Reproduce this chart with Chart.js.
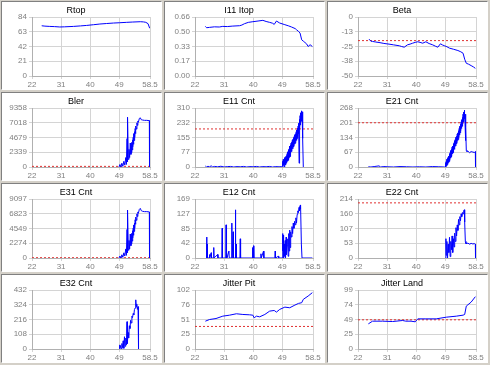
<!DOCTYPE html>
<html>
<head>
<meta charset="utf-8">
<script src="https://cdn.jsdelivr.net/npm/chart.js@4.4.1/dist/chart.umd.min.js"></script>
<style>
  html, body { margin: 0; padding: 0; }
  body { width: 490px; height: 365px; background: #d4d0c8; position: relative; overflow: hidden; }
  .panel { position: absolute; width: 159px; height: 87px; background: #fff;
           border: 1px solid; border-color: #808080 #ffffff #ffffff #808080; }
  .panel canvas { display: block; }
</style>
</head>
<body>
<script>
// x axis (shared)
const xTickVals = [22, 31, 40, 49, 58.5];
const xTickLabels = ['22', '31', '40', '49', '58.5'];

const panelTitles = ['Rtop', 'I11 Itop', 'Beta', 'Bler', 'E11 Cnt', 'E21 Cnt',
                     'E31 Cnt', 'E12 Cnt', 'E22 Cnt', 'E32 Cnt', 'Jitter Pit', 'Jitter Land'];
const thresholds = [null, null, -20, 100, 200, 201, 50, null, 200, null, 39, 49];

// y tick labels per panel
const rtopTicks = ['0', '21', '42', '63', '84'];
const itopTicks = ['0.00', '0.17', '0.33', '0.50', '0.66'];
const betaTicks = ['-50', '-38', '-25', '-13', '0'];
const blerTicks = ['0', '2339', '4679', '7018', '9358'];
const e11Ticks = ['0', '77', '155', '232', '310'];
const e21Ticks = ['0', '67', '134', '201', '268'];
const e31Ticks = ['0', '2274', '4549', '6823', '9097'];
const e12Ticks = ['0', '42', '85', '127', '169'];
const e22Ticks = ['0', '53', '107', '160', '214'];
const e32Ticks = ['0', '108', '216', '324', '432'];
const pitTicks = ['0', '25', '51', '76', '102'];
const landTicks = ['0', '25', '49', '74', '99'];
const yRanges = [[0, 84], [0, 0.66], [-50, 0], [0, 9358], [0, 310], [0, 268],
                 [0, 9097], [0, 169], [0, 214], [0, 432], [0, 102], [0, 99]];

// series
const rtopX = [25, 26, 27.5, 29, 30.6, 32, 34.8, 37, 38.9, 41, 43, 45, 47.2, 49, 51.3, 53, 55.5, 56.5, 57.2, 57.9, 58.4];
const rtopY = [71.5, 71, 70.6, 70.3, 69.8, 70, 70.6, 71.3, 72, 73, 74, 74.7, 75.4, 75.8, 76.4, 76.8, 77.3, 77, 76.4, 74.5, 68];

const itopX = [25.2, 25.6, 26.5, 28, 29.5, 30.6, 32, 33.5, 35.8, 36.5, 37.3, 38.5, 39.9, 41.5, 43, 44, 45.1, 46, 46.5, 47.2, 48.2, 49.8, 51, 51.9, 53, 53.4, 54, 54.5, 55, 55.5, 56, 56.5, 57, 57.6, 58.3];
const itopY = [0.555, 0.54, 0.544, 0.55, 0.548, 0.555, 0.553, 0.558, 0.5625, 0.57, 0.585, 0.6, 0.6075, 0.615, 0.6225, 0.61, 0.6, 0.59, 0.577, 0.615, 0.5925, 0.574, 0.56, 0.5475, 0.53, 0.5175, 0.5, 0.48, 0.405, 0.39, 0.375, 0.36, 0.33, 0.35, 0.33];

const betaX = [25.4, 26, 26.5, 27.5, 28.5, 30, 31.6, 33, 34.8, 35.5, 36.3, 37.3, 38.1, 38.9, 39.7, 40.5, 41.2, 42, 43, 44, 45.1, 46, 46.7, 47.5, 48.2, 48.8, 49.5, 50.3, 51.5, 52.9, 53.8, 54.5, 55, 55.5, 56.2, 57, 57.7, 58.3];
const betaY = [-18.75, -20.5, -20.7, -21.2, -21.6, -22.4, -23, -23.6, -24.4, -25, -25.6, -23.6, -23, -22.2, -21.5, -21, -21.5, -22.2, -21, -22.5, -23.6, -24.8, -25.6, -22.7, -23.8, -24.4, -25.2, -26.4, -27.3, -28.4, -29.5, -30.7, -35.8, -39.2, -40, -41.2, -42.3, -43.5];

const blerX = [48.9, 49.2, 49.5, 49.8, 50.1, 50.4, 50.7, 51.0, 51.2, 51.4, 51.5, 51.6, 51.8, 52.0, 52.2, 52.4, 52.6, 52.7, 52.8, 52.9, 53.0, 53.1, 53.2, 53.3, 53.4, 53.5, 53.6, 53.7, 53.8, 53.9, 54.0, 54.15, 54.3, 54.45, 54.6, 54.75, 54.9, 55.2, 55.5, 55.8, 56.2, 56.8, 57.5, 58.3, 58.35];
const blerY = [0, 400, 0, 600, 100, 900, 300, 1500, 400, 4500, 800, 7900, 1200, 2800, 1500, 3800, 2000, 3400, 2300, 3900, 2700, 4300, 3200, 4700, 3600, 5300, 4200, 5600, 4700, 6100, 5300, 6500, 6000, 7000, 6600, 7300, 7100, 7700, 7800, 7500, 7450, 7400, 7400, 7350, 0];

const e11X = [25.2, 25.6, 26.0, 26.5, 27, 27.5, 28, 29, 30, 31, 32, 33, 34, 35, 36, 37, 38, 39, 40, 41, 42, 43, 44, 45, 46, 47, 48, 48.8,
              49.0, 49.1, 49.2, 49.3, 49.4, 49.5, 49.6, 49.7, 49.8, 49.9, 50.0, 50.1, 50.2, 50.3, 50.4, 50.5, 50.6, 50.7, 50.8, 50.9,
              51.0, 51.1, 51.2, 51.3, 51.4, 51.5, 51.6, 51.7, 51.8, 51.9, 52.0, 52.1, 52.2, 52.3, 52.4, 52.5, 52.6, 52.7, 52.8, 52.9,
              53.0, 53.1, 53.2, 53.3, 53.4, 53.5, 53.6, 53.7, 53.8, 53.9, 54.0, 54.1, 54.2, 54.3, 54.4, 54.5, 54.6, 54.7, 54.8, 54.9,
              55.0, 55.1, 55.2, 55.3, 55.4, 55.5];
const e11Y = [5, 0, 4, 1, 6, 0, 3, 1, 4, 0, 2, 3, 0, 2, 1, 3, 0, 2, 1, 3, 0, 2, 1, 3, 0, 2, 1, 2,
              0, 30, 5, 40, 10, 35, 0, 50, 15, 45, 10, 55, 20, 60, 25, 70, 30, 80, 35, 90,
              40, 95, 50, 110, 55, 115, 70, 125, 80, 130, 85, 140, 95, 145, 105, 155, 110, 160, 120, 170,
              125, 175, 135, 185, 140, 195, 150, 205, 160, 215, 175, 230, 20, 250, 200, 270, 220, 285, 240, 295,
              250, 290, 180, 240, 150, 0];

const e21X = [25.2, 26, 27, 28.5, 29, 30, 31, 33, 35, 37, 39, 41, 43, 45, 47, 48.8,
              49.0, 49.1, 49.2, 49.3, 49.4, 49.5, 49.6, 49.7, 49.8, 49.9, 50.0, 50.1, 50.2, 50.3, 50.4, 50.5, 50.6, 50.7, 50.8, 50.9,
              51.0, 51.1, 51.2, 51.3, 51.4, 51.5, 51.6, 51.7, 51.8, 51.9, 52.0, 52.1, 52.2, 52.3, 52.4, 52.5, 52.6, 52.7, 52.8, 52.9,
              53.0, 53.1, 53.2, 53.3, 53.4, 53.5, 53.6, 53.7, 53.8, 53.9, 54.0, 54.1, 54.2, 54.3, 54.4, 54.5, 54.6, 54.7, 54.8, 54.9,
              55.0, 55.1, 55.2, 55.3, 55.4, 55.5, 55.7, 56, 56.5, 57, 57.5, 58, 58.3, 58.35];
const e21Y = [1, 0, 2, 5, 0, 2, 1, 0, 2, 1, 0, 1, 0, 2, 1, 0,
              0, 20, 0, 25, 5, 35, 10, 40, 15, 45, 20, 50, 25, 60, 30, 65, 40, 75, 45, 80,
              50, 90, 60, 95, 65, 105, 75, 110, 80, 120, 90, 125, 95, 135, 105, 140, 110, 150, 120, 155,
              125, 165, 135, 175, 145, 185, 155, 195, 165, 205, 175, 215, 185, 225, 195, 240, 205, 250, 220, 258,
              230, 200, 240, 120, 180, 75, 70, 72, 65, 70, 68, 66, 70, 0];

const e31X = [48.9, 49.2, 49.5, 49.8, 50.1, 50.4, 50.7, 51.0, 51.2, 51.4, 51.5, 51.6, 51.8, 52.0, 52.2, 52.4, 52.6, 52.7, 52.8, 52.9, 53.0, 53.1, 53.2, 53.3, 53.4, 53.5, 53.6, 53.7, 53.8, 53.9, 54.0, 54.15, 54.3, 54.45, 54.6, 54.75, 54.9, 55.2, 55.5, 55.8, 56.2, 56.8, 57.5, 58.3, 58.35];
const e31Y = [0, 300, 0, 500, 100, 800, 300, 1400, 400, 4400, 800, 7400, 1200, 2700, 1400, 3700, 1900, 3300, 2200, 3800, 2600, 4200, 3100, 4600, 3500, 5100, 4100, 5400, 4600, 5900, 5200, 6300, 5800, 6800, 6400, 7100, 6900, 7500, 7650, 7300, 7200, 7150, 7150, 7100, 0];

const e12X = [25.5, 25.6, 25.7, 25.75, 25.8, 26.4, 26.5, 26.6, 27.0, 27.1, 27.7, 27.8, 27.9, 29.0, 29.1, 30.3, 30.4, 30.5, 31.5, 31.6, 31.7, 31.8, 31.9, 32.5, 32.6,
              33.3, 33.4, 33.5, 33.8, 33.9, 34.4, 34.5, 34.6, 34.7, 34.8, 35.9, 36.0, 36.1, 39.7, 39.8, 39.9, 40.1, 40.2, 42.3, 42.4, 42.5, 43.2, 43.3, 46.7, 46.8, 46.9, 47.8, 47.9,
              49.0, 49.1, 49.2, 49.3, 49.4, 49.6, 49.7, 49.9, 50.0, 50.2, 50.3, 50.5, 50.7, 50.8, 51.0, 51.1, 51.3, 51.4, 51.6, 51.8, 52.0, 52.2, 52.4, 52.6, 52.8, 53.0, 53.2, 53.4, 53.6, 53.8, 54.0, 54.2, 54.3, 54.5, 54.6, 54.7, 54.9, 55.1, 58.3];
const e12Y = [0, 60, 0, 40, 0, 0, 10, 0, 15, 0, 0, 30, 0, 10, 0, 0, 85, 0, 0, 95, 0, 20, 0, 20, 0,
              0, 100, 0, 75, 0, 0, 138, 0, 40, 0, 0, 55, 0, 0, 30, 0, 35, 0, 0, 12, 0, 20, 0, 0, 20, 0, 5, 0,
              0, 70, 20, 65, 0, 40, 5, 50, 0, 60, 10, 35, 55, 5, 70, 20, 80, 30, 75, 60, 90, 70, 100, 85, 105, 95, 115, 100, 125, 135, 130, 145, 135, 150, 140, 152, 40, 0, 0];

const e22X = [49.1, 49.2, 49.3, 49.5, 49.7, 49.9, 50.1, 50.3, 50.5, 50.7, 50.9, 51.1, 51.3, 51.5, 51.7, 51.9, 52.1, 52.3, 52.5, 52.7, 52.9, 53.1, 53.3, 53.5, 53.7, 53.9, 54.1, 54.3, 54.5, 54.7, 54.9, 55.0, 55.2, 55.4, 56, 56.5, 57, 57.5, 58, 58.3, 58.35];
const e22Y = [0, 70, 10, 60, 0, 50, 20, 75, 5, 60, 30, 80, 20, 70, 40, 90, 60, 110, 80, 120, 100, 140, 120, 150, 135, 160, 150, 165, 160, 172, 175, 130, 60, 52, 54, 50, 53, 51, 52, 50, 0];

const e32X = [49.0, 49.1, 49.2, 49.4, 49.6, 49.8, 50.0, 50.2, 50.4, 50.6, 50.8, 51.0, 51.2, 51.4, 51.5, 51.7, 51.9, 52.1, 52.3, 52.5, 52.7, 52.9, 53.1, 53.3, 53.5, 53.7, 53.9, 54.1, 54.2, 54.4, 54.6, 54.8, 54.9, 55.0];
const e32Y = [0, 30, 5, 25, 0, 40, 10, 60, 5, 90, 20, 80, 30, 200, 40, 120, 80, 170, 150, 210, 190, 240, 230, 260, 250, 290, 300, 360, 310, 330, 290, 310, 120, 0];

const pitX = [25.2, 26.5, 28.5, 30.6, 32.7, 34.8, 36.8, 38.9, 39.9, 40.3, 41, 42, 43.6, 45.1, 46.5, 47.2, 48.2, 49.8, 51.3, 52.9, 54, 55, 55.5, 57, 58.3];
const pitY = [48.1, 51, 52.7, 56.8, 58.5, 60.9, 59.7, 59.1, 58.5, 53.9, 56.8, 55.6, 59.7, 65.5, 66.6, 63.8, 68.4, 72.4, 71.3, 75.9, 78.8, 80, 85.8, 91.6, 97.4];

const landX = [25.2, 26.5, 29.6, 32.7, 35.8, 36.8, 38.4, 39.7, 40.5, 43, 46.2, 49.3, 52.4, 54.5, 55, 55.5, 57, 58.3];
const landY = [42.2, 46.7, 46.7, 46.1, 47.8, 46.7, 46.7, 45.6, 50.6, 50.6, 50.6, 53.4, 55.1, 56.8, 57.9, 72, 78.7, 87.8];

const seriesX = [rtopX, itopX, betaX, blerX, e11X, e21X, e31X, e12X, e22X, e32X, pitX, landX];
const seriesY = [rtopY, itopY, betaY, blerY, e11Y, e21Y, e31Y, e12Y, e22Y, e32Y, pitY, landY];
const tickLabels = [rtopTicks, itopTicks, betaTicks, blerTicks, e11Ticks, e21Ticks,
                    e31Ticks, e12Ticks, e22Ticks, e32Ticks, pitTicks, landTicks];

Chart.defaults.font.family = 'Arial, "Liberation Sans", sans-serif';
Chart.defaults.animation = false;

for (let i = 0; i < 12; i++) {
  const col = i % 3, row = Math.floor(i / 3);
  const div = document.createElement('div');
  div.className = 'panel';
  div.style.left = (1 + 163 * col) + 'px';
  div.style.top = (1 + 91 * row) + 'px';
  const canvas = document.createElement('canvas');
  canvas.width = 159;
  canvas.height = 87;
  div.appendChild(canvas);
  document.body.appendChild(div);

  const [ymin, ymax] = yRanges[i];
  const labels = tickLabels[i];
  const datasets = [{
    data: seriesX[i].map((x, k) => ({ x: x, y: seriesY[i][k] })),
    borderColor: '#0000ff',
    borderWidth: 1,
    pointRadius: 0,
    tension: 0
  }];
  if (thresholds[i] !== null) {
    datasets.push({
      data: [{ x: 22, y: thresholds[i] }, { x: 58.5, y: thresholds[i] }],
      borderColor: '#e03030',
      borderWidth: 1,
      borderDash: [2, 2],
      pointRadius: 0
    });
  }

  new Chart(canvas.getContext('2d'), {
    type: 'line',
    data: { datasets: datasets },
    options: {
      responsive: false,
      devicePixelRatio: 1,
      layout: { padding: { top: 0, right: 11, left: 0, bottom: 0 } },
      plugins: {
        legend: { display: false },
        tooltip: { enabled: false },
        title: {
          display: true,
          text: panelTitles[i],
          color: '#000',
          font: { size: 9, weight: 'normal' },
          padding: { top: 3, bottom: 1.2 }
        }
      },
      scales: {
        x: {
          type: 'linear',
          min: 22,
          max: 58.5,
          afterBuildTicks: s => { s.ticks = xTickVals.map(v => ({ value: v })); },
          afterFit: s => { s.height = 13; },
          ticks: {
            autoSkip: false,
            maxRotation: 0,
            color: '#808080',
            font: { size: 8 },
            padding: 1,
            callback: (v, k) => xTickLabels[k]
          },
          grid: { color: '#d4d4d4', tickLength: 3 },
          border: { color: '#b0b0b0' }
        },
        y: {
          min: ymin,
          max: ymax,
          afterBuildTicks: s => { s.ticks = labels.map((l, k) => ({ value: ymin + k * (ymax - ymin) / 4 })); },
          afterFit: s => { s.width = 30; },
          ticks: {
            color: '#808080',
            font: { size: 8 },
            padding: 2,
            callback: (v, k) => labels[k]
          },
          grid: { color: '#d4d4d4', tickLength: 3 },
          border: { color: '#b0b0b0' }
        }
      }
    }
  });
}
</script>
</body>
</html>
